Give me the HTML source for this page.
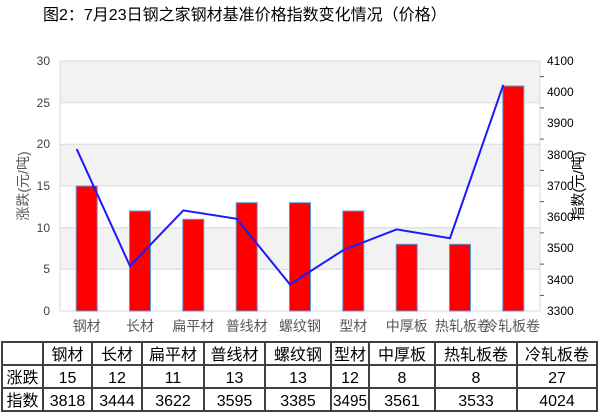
<!DOCTYPE html>
<html><head><meta charset="utf-8"><style>
body{margin:0;background:#fff;width:601px;height:415px;overflow:hidden}
svg text{font-family:"Liberation Sans","Noto Sans CJK SC",sans-serif}
</style></head><body>
<svg width="601" height="415" xmlns="http://www.w3.org/2000/svg">
<text x="43" y="20" font-size="16" fill="#000">图2：7月23日钢之家钢材基准价格指数变化情况（价格）</text>
<rect x="60" y="61" width="480" height="41.7" fill="#f2f2f2"/>
<rect x="60" y="144.3" width="480" height="41.7" fill="#f2f2f2"/>
<rect x="60" y="227.7" width="480" height="41.7" fill="#f2f2f2"/>
<g stroke="#d9d9d9" stroke-width="1">
<line x1="60" y1="61" x2="540" y2="61"/><line x1="60" y1="102.7" x2="540" y2="102.7"/>
<line x1="60" y1="144.3" x2="540" y2="144.3"/><line x1="60" y1="186" x2="540" y2="186"/>
<line x1="60" y1="227.7" x2="540" y2="227.7"/><line x1="60" y1="269.3" x2="540" y2="269.3"/>
<line x1="60" y1="311" x2="540" y2="311"/>
<line x1="60" y1="61" x2="60" y2="311"/><line x1="540" y1="61" x2="540" y2="311"/>
</g>
<g stroke="#595959"><line x1="540" y1="76.6" x2="544" y2="76.6"/><line x1="540" y1="107.9" x2="544" y2="107.9"/><line x1="540" y1="139.1" x2="544" y2="139.1"/><line x1="540" y1="170.4" x2="544" y2="170.4"/><line x1="540" y1="201.6" x2="544" y2="201.6"/><line x1="540" y1="232.9" x2="544" y2="232.9"/><line x1="540" y1="264.1" x2="544" y2="264.1"/><line x1="540" y1="295.4" x2="544" y2="295.4"/></g>
<g fill="#ff0000" stroke="#5b9bd5" stroke-width="1">
<rect x="76.2" y="186" width="21" height="125"/>
<rect x="129.5" y="211" width="21" height="100"/>
<rect x="182.8" y="219.3" width="21" height="91.7"/>
<rect x="236.2" y="202.7" width="21" height="108.3"/>
<rect x="289.5" y="202.7" width="21" height="108.3"/>
<rect x="342.8" y="211" width="21" height="100"/>
<rect x="396.2" y="244.3" width="21" height="66.7"/>
<rect x="449.5" y="244.3" width="21" height="66.7"/>
<rect x="502.8" y="86" width="21" height="225"/>
</g>
<polyline fill="none" stroke="#1a1aff" stroke-width="2" points="76.7,149.1 130,266 183.3,210.4 236.7,218.8 290,284.4 343.3,250.1 396.7,229.4 450,238.2 503.3,84.8"/>
<g font-size="12" fill="#404040" text-anchor="end">
<text x="50" y="65">30</text><text x="50" y="107">25</text><text x="50" y="148">20</text><text x="50" y="190">15</text><text x="50" y="232">10</text><text x="50" y="273">5</text><text x="50" y="315">0</text>
</g>
<g font-size="12" fill="#000">
<text x="547" y="65">4100</text><text x="547" y="96">4000</text><text x="547" y="127">3900</text><text x="547" y="159">3800</text><text x="547" y="190">3700</text><text x="547" y="221">3600</text><text x="547" y="252">3500</text><text x="547" y="284">3400</text><text x="547" y="315">3300</text>
</g>
<text transform="translate(28,186) rotate(-90)" font-size="14" fill="#595959" text-anchor="middle">涨跌(元/吨)</text>
<text transform="translate(583,186) rotate(-90)" font-size="14" fill="#000" text-anchor="middle">指数(元/吨)</text>
<g font-size="14" fill="#595959" text-anchor="middle">
<text x="86.7" y="331">钢材</text><text x="140" y="331">长材</text><text x="193.3" y="331">扁平材</text><text x="246.7" y="331">普线材</text><text x="300" y="331">螺纹钢</text><text x="353.3" y="331">型材</text><text x="406.7" y="331">中厚板</text><text x="463" y="331">热轧板卷</text><text x="512" y="331">冷轧板卷</text>
</g>
<g stroke="#404040" stroke-width="2" fill="none">
<rect x="2" y="342" width="595" height="69"/>
<line x1="2" y1="365" x2="597" y2="365"/><line x1="2" y1="388" x2="597" y2="388"/>
<line x1="43" y1="342" x2="43" y2="411"/><line x1="92" y1="342" x2="92" y2="411"/><line x1="142" y1="342" x2="142" y2="411"/><line x1="204" y1="342" x2="204" y2="411"/><line x1="265" y1="342" x2="265" y2="411"/><line x1="331" y1="342" x2="331" y2="411"/><line x1="369" y1="342" x2="369" y2="411"/><line x1="435" y1="342" x2="435" y2="411"/><line x1="517" y1="342" x2="517" y2="411"/>
</g>
<g font-size="16" fill="#000" text-anchor="middle">
<text x="67.5" y="360">钢材</text><text x="117" y="360">长材</text><text x="173" y="360">扁平材</text><text x="234.5" y="360">普线材</text><text x="298" y="360">螺纹钢</text><text x="350" y="360">型材</text><text x="402" y="360">中厚板</text><text x="476" y="360">热轧板卷</text><text x="557" y="360">冷轧板卷</text>
<text x="22.5" y="383">涨跌</text><text x="67.5" y="383">15</text><text x="117" y="383">12</text><text x="173" y="383">11</text><text x="234.5" y="383">13</text><text x="298" y="383">13</text><text x="350" y="383">12</text><text x="402" y="383">8</text><text x="476" y="383">8</text><text x="557" y="383">27</text>
<text x="22.5" y="406">指数</text><text x="67.5" y="406">3818</text><text x="117" y="406">3444</text><text x="173" y="406">3622</text><text x="234.5" y="406">3595</text><text x="298" y="406">3385</text><text x="350" y="406" textLength="34" lengthAdjust="spacingAndGlyphs">3495</text><text x="402" y="406">3561</text><text x="476" y="406">3533</text><text x="557" y="406">4024</text>
</g>
</svg>
</body></html>
